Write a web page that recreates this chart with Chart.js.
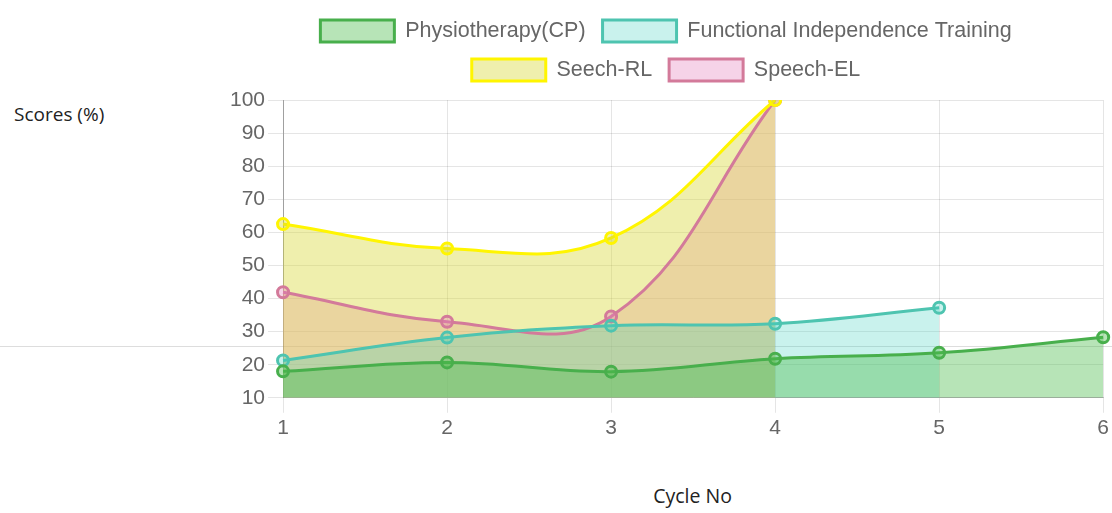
<!DOCTYPE html>
<html>
<head>
<meta charset="utf-8">
<script src="https://cdn.jsdelivr.net/npm/chart.js@4.4.1/dist/chart.umd.min.js"></script>
<style>
  html, body { margin: 0; padding: 0; background: #fff; }
  body { width: 1112px; height: 513px; position: relative; overflow: hidden; font-family: "Open Sans", sans-serif; color: #222; }
  .rule { position: absolute; left: 0; top: 346px; width: 1112px; height: 0; border-top: 1px solid #ddd; }
  .ylabel { position: absolute; left: 14px; top: 101px; font-size: 19px; }
  .xlabel { position: absolute; left: 0; width: 1385px; top: 482px; text-align: center; font-size: 19.5px; }
  .wrap { position: absolute; left: 221px; top: 0; width: 891px; height: 450px; }
</style>
</head>
<body>
<div class="rule"></div>
<div class="ylabel">Scores (%)</div>
<div class="xlabel">Cycle No</div>
<div class="wrap"><canvas id="scoreChart"></canvas></div>
<script>
// cycle numbers on the x axis
const cycles = ['1', '2', '3', '4', '5', '6'];

// scores per cycle
const physio = [18, 20.7, 17.9, 21.8, 23.6, 28.3];
const functionalTraining = [21.3, 28.2, 31.8, 32.4, 37.2];
const speechRL = [62.5, 55.1, 58.3, 100];
const speechEL = [41.9, 33, 34.6, 100];

const yTicks = { min: 10, max: 100, step: 10 };

const tickFont = { family: '"Liberation Sans", Arial, sans-serif', size: 21 };

function makeSet(label, data, line, fill) {
  return {
    label: label,
    data: data,
    borderColor: line,
    backgroundColor: fill,
    pointBackgroundColor: fill,
    pointBorderColor: line,
    borderWidth: 3,
    pointRadius: 5.5,
    pointBorderWidth: 3,
    tension: 0.4,
    fill: 'origin'
  };
}

// a bit of room between the legend and the plot
const legendGap = {
  id: 'legendGap',
  beforeInit(chart) {
    if (!chart.legend) return;
    const fit = chart.legend.fit;
    chart.legend.fit = function () {
      fit.call(this);
      this.height += 9;
    };
  }
};

const ctx = document.getElementById('scoreChart').getContext('2d');
new Chart(ctx, {
  type: 'line',
  data: {
    labels: cycles,
    datasets: [
      makeSet('Physiotherapy(CP)', physio, 'rgb(72,175,76)', 'rgba(76,187,76,0.4)'),
      makeSet('Functional Independence Training', functionalTraining, 'rgb(78,196,176)', 'rgba(60,210,190,0.28)'),
      makeSet('Seech-RL', speechRL, 'rgb(255,245,0)', 'rgba(215,215,50,0.4)'),
      makeSet('Speech-EL', speechEL, 'rgb(211,122,154)', 'rgba(230,130,190,0.35)')
    ]
  },
  plugins: [legendGap],
  options: {
    responsive: true,
    maintainAspectRatio: false,
    animation: false,
    layout: { padding: { top: 3, left: 6, right: 7, bottom: 6 } },
    plugins: {
      filler: { drawTime: 'beforeDatasetsDraw' },
      legend: {
        labels: {
          boxWidth: 74,
          boxHeight: 22,
          padding: 17,
          color: '#666',
          font: { family: '"Liberation Sans", Arial, sans-serif', size: 21.5 }
        }
      },
      tooltip: { enabled: false }
    },
    scales: {
      x: {
        grid: { color: 'rgba(0,0,0,0.1)', tickLength: 15 },
        border: { color: 'rgba(0,0,0,0.25)' },
        ticks: { color: '#666', padding: 3, maxRotation: 0, font: tickFont }
      },
      y: {
        min: yTicks.min,
        max: yTicks.max,
        grid: { color: 'rgba(0,0,0,0.1)', tickLength: 15 },
        border: { color: 'rgba(0,0,0,0.3)' },
        ticks: { stepSize: yTicks.step, color: '#666', padding: 3, font: tickFont }
      }
    }
  }
});
</script>
</body>
</html>
